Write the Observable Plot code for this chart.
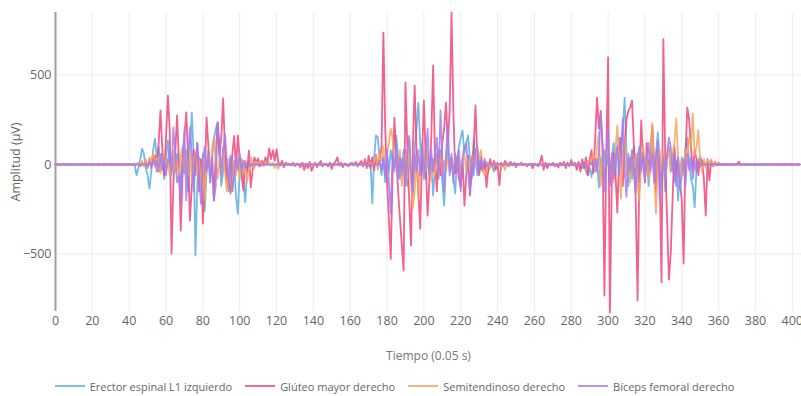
<!DOCTYPE html>
<html>
<head>
<meta charset="utf-8">
<script src="https://cdn.jsdelivr.net/npm/d3@7"></script>
<script src="https://cdn.jsdelivr.net/npm/@observablehq/plot@0.6"></script>
<style>
  html, body { margin: 0; padding: 0; background: #fff; }
  #chart { width: 801px; }
  #legend { display: flex; justify-content: center; align-items: center; gap: 13px; height: 20px;
    font: 11px 'Open Sans', sans-serif; color: #666; padding-right: 12px; }
  #legend .item { display: flex; align-items: center; gap: 5px; white-space: nowrap; }
</style>
</head>
<body>
<div id="chart"></div>
<div id="legend"></div>
<script>
// Series names and colours (legend order)
const names = ["Erector espinal L1 izquierdo", "Glúteo mayor derecho", "Semitendinoso derecho", "Bíceps femoral derecho"];
const colors = ["#5aaee5", "#f0457b", "#f8a35e", "#a47cf0"];
const xTicks = [0, 20, 40, 60, 80, 100, 120, 140, 160, 180, 200, 220, 240, 260, 280, 300, 320, 340, 360, 380, 400];
const yTicks = [-500, 0, 500];

// Amplitude (µV) per time step (0.05 s), index = time step
const erector = [
  0, 1, -1, 0, 2, -1, 0, 1, -2, 0,
  1, 0, -1, 2, 0, -1, 1, 0, -2, 1,
  0, 2, -1, 0, 1, -1, 0, 2, -1, 0,
  1, -2, 0, 1, 0, -1, 2, 0, -1, 1,
  0, 2, -3, 0, -61, -20, 30, 89, 60, -20,
  -60, -135, -40, 80, 145, 40, 100, -30, 60, -80,
  40, 134, 20, -60, 50, -40, 60, -20, -100, 30,
  -50, 80, -150, 100, 290, 50, -508, -100, 40, -80,
  60, -260, -50, 80, -100, 30, 145, 200, 229, 60,
  -120, -40, 50, -100, -150, 40, -60, 20, -180, -275,
  -40, 30, -80, -212, -30, 20, -10, 5, -5, 10,
  0, -2, 1, 0, 2, -1, 0, 1, -2, 0,
  1, 0, -1, 2, 0, -1, 1, 0, -2, 1,
  0, 2, -1, 0, 1, -1, 0, 2, -1, 0,
  1, -2, 0, 1, 0, -1, 2, 0, -1, 1,
  0, 1, -1, 0, 2, -1, 0, 1, -2, 0,
  1, 0, -1, 2, 0, -1, 1, 0, 0, 5,
  -10, 20, -218, 40, 162, 151, 20, -60, 30, -100,
  50, -40, 80, 20, 120, 162, 40, -80, 30, -50,
  80, -120, 20, -60, -184, 100, 200, 346, 120, -40,
  60, -80, 40, -60, 30, -173, -20, 60, -30, 80,
  -100, -229, 20, 100, -40, 60, -80, -162, 30, 100,
  150, 190, 60, 120, 162, 30, -80, 140, 40, -60,
  20, -30, 10, -20, 15, -40, 5, -10, -40, 5,
  0, 2, -1, 0, 1, -2, 0, 1, -1, 0,
  2, -1, 0, 1, -2, 0, 1, 0, -1, 2,
  0, -1, 1, 0, -2, 1, 0, 2, -1, 0,
  1, -1, 0, 2, -1, 0, 1, -2, 0, 1,
  0, 2, -1, 0, 1, 0, -20, 10, -40, -60,
  -20, -70, 10, -40, 30, -128, 40, -60, 80, -30,
  60, -100, 40, 120, -60, 80, 150, 60, 200, 374,
  50, -120, 40, -80, 100, -40, 60, -100, 30, 80,
  -60, 40, -120, 20, 100, -30, 60, 180, 40, -80,
  60, -150, 30, 100, -40, 60, -100, 20, -201, -50,
  40, -30, 80, 151, 20, -80, -120, -240, -20, 30,
  -10, 20, -5, 10, 0, 1, -1, 0, 2, -1,
  0, 1, -2, 0, 1, -1, 0, 2, -1, 0,
  1, 0, -1, 2, 0, -1, 1, 0, -2, 1,
  0, 2, -1, 0, 1, -1, 0, 2, -1, 0,
  1, -2, 0, 1, 0, -1, 2, 0, -1, 1,
  0, 1, -1, 0, 0
];

const gluteo = [
  0, 2, -2, 1, -1, 3, 0, -2, 2, 0,
  -1, 2, 0, -3, 1, 2, -1, 0, 3, -2,
  0, 1, -2, 2, 0, -1, 3, 0, -2, 1,
  2, -1, 0, 2, -3, 1, 0, 2, -1, 0,
  3, -2, 1, 0, 0, 5, -10, 10, -5, 15,
  -20, 30, -10, 20, 50, -40, 120, 302, 80, -60,
  150, 385, 200, -497, -100, 60, 274, 20, -369, -50,
  162, 291, 40, -313, -120, 80, -60, 120, -150, 30,
  -330, -80, 263, 100, -60, 40, -201, 60, 235, 50,
  150, 369, 80, -100, -40, -162, 60, 160, -20, 162,
  30, -60, -145, 20, -40, 78, -128, -30, 40, 10,
  34, -10, 20, 5, 40, 10, 90, 30, 80, 20,
  85, 10, -5, 20, -15, 10, 0, 5, -5, 10,
  -8, 5, 0, -15, 10, -30, 5, -20, 15, -35,
  -10, 10, -15, 5, 20, -10, 5, 0, -10, 10,
  -25, 5, 15, 40, -5, 10, -15, 5, 0, -10,
  5, 10, -5, 15, -10, 5, 20, -10, 30, -20,
  50, -20, 40, -30, 55, -10, 30, 100, 737, 200,
  -100, -300, -527, -50, 262, 50, -150, -300, -450, -592,
  458, 100, -200, -452, 100, 441, 80, -150, -358, 50,
  357, 20, -285, -80, 150, 553, 40, -150, 80, -60,
  120, 200, 346, 100, 300, 849, 300, -50, 40, -80,
  -128, 30, -229, -60, 50, -173, -40, 80, 330, 40,
  -60, 20, -40, 30, -128, -20, 30, -10, 20, -30,
  10, -117, 10, -10, 20, 5, -10, 15, -5, 10,
  -15, 5, 0, 10, -5, 5, -10, 0, 5, -20,
  5, 0, -10, 10, 50, -30, 10, -20, 5, -5,
  10, -10, 0, -15, 10, -5, 15, -20, 10, -10,
  25, -5, 10, -30, 15, -40, 30, -20, 40, -60,
  20, 80, -50, 150, 374, 200, 300, 100, -732, 50,
  598, -827, -100, 60, -50, -268, 50, 150, -120, 100,
  250, 300, 320, 357, 100, -200, -760, -50, 246, 20,
  -100, 120, -60, 80, 218, 20, -150, 80, -40, -659,
  700, 50, -300, -643, -500, -200, 100, -60, 40, -100,
  -200, -553, 50, 318, 250, 100, -40, 80, 30, -60,
  40, 20, -80, -285, 30, -89, 20, -10, 15, -5,
  10, 0, 5, -3, 2, 0, -2, 3, 0, -1,
  2, 15, -3, 0, 2, -1, 0, 3, -2, 0,
  1, -2, 2, 0, -1, 3, 0, -2, 1, 0,
  -1, 2, 0, -2, 1, 0, 2, -1, 0, 1,
  -2, 0, 1, -1, 0
];

const semitendinoso = [
  0, -1, 1, 0, -2, 1, 0, -1, 2, 0,
  -1, 0, 1, -2, 0, 1, -1, 0, 2, -1,
  0, -2, 1, 0, -1, 1, 0, -2, 1, 0,
  -1, 2, 0, -1, 0, 1, -2, 0, 1, -1,
  0, 1, -1, 0, 0, 10, -5, 20, -10, 30,
  -20, 40, 10, 67, 20, -30, 40, -50, 20, 60,
  -20, 30, -60, 40, 80, -40, 20, -80, 40, 100,
  -30, 50, -60, 80, -100, 30, 60, -40, 20, -120,
  40, -200, 20, 60, -40, 90, 151, 20, -80, 40,
  -60, 100, -40, -150, 30, -100, -150, 20, -60, 40,
  -80, 30, -50, 20, -100, -30, 40, 10, -20, 15,
  -10, 20, 5, -10, 10, 0, 15, -5, 10, -20,
  5, -25, 10, -5, 5, 0, 1, -1, 0, 2,
  0, -1, 1, 0, -2, 1, 0, -1, 2, 0,
  -1, 0, 1, -2, 0, 1, -1, 0, 2, -1,
  0, -2, 1, 0, -1, 1, 0, -2, 1, 0,
  -1, 2, 0, -1, 0, 1, -2, 0, 1, -1,
  0, 10, -10, 20, 50, -30, 60, 20, 100, -40,
  60, 120, 200, 150, -20, 60, -60, 80, -120, -40,
  60, -80, 150, -100, -245, -150, 40, -190, 20, 60,
  100, -40, 80, -20, -90, 30, -60, 40, -30, 60,
  -50, 20, -40, 50, -20, 30, -40, 60, -20, 40,
  -30, 20, 60, -40, 30, -20, 50, -30, 40, 95,
  30, 80, -20, -61, -40, 10, -20, 5, -10, 10,
  -5, 0, -10, 5, -30, 0, 10, -5, 0, 1,
  -1, 0, 2, -1, 0, 1, -2, 0, 1, -1,
  0, 2, -1, 0, 1, -1, 0, 2, -1, 0,
  1, -2, 0, 1, 0, -1, 2, 0, -1, 1,
  0, -1, 2, 0, -1, 1, 0, -2, 0, 20,
  -10, 30, 60, -30, 100, 180, -120, 60, -80, 40,
  120, -60, 40, -100, 80, 218, 40, -190, 60, 150,
  -60, 30, -100, 80, -40, 60, -120, -200, 40, 100,
  -50, 60, -80, 40, 229, -60, -274, 30, 80, -40,
  60, -80, 30, 100, -40, 60, 120, 257, 40, -100,
  30, -60, 80, 40, 150, 100, 285, 50, 100, 190,
  20, -40, 30, -20, 20, 10, 30, -10, 15, 0,
  10, 0, -1, 1, 0, -2, 1, 0, -1, 2,
  0, -1, 0, 1, -2, 0, 1, -1, 0, 2,
  -1, 0, 1, -1, 0, 2, -1, 0, 1, -2,
  0, 1, -1, 0, 2, -1, 0, 1, -1, 0,
  1, -1, 0, 2, 0
];

const biceps = [
  0, 1, 0, -1, 1, 0, -1, 0, 1, -1,
  0, 1, -1, 0, 1, 0, -1, 1, 0, -1,
  1, 0, -1, 0, 1, -1, 0, 1, 0, -1,
  0, 1, -1, 0, 1, 0, -1, 1, -1, 0,
  1, -1, 0, 1, 0, -1, 1, 0, 0, 5,
  -10, 15, -20, 30, -10, 20, -40, 60, -30, 40,
  -60, 20, 80, -40, 207, 60, -100, -60, -200, 40,
  190, -200, 50, 207, 60, -150, 30, 120, -80, -220,
  20, 100, -40, 60, -100, 40, -200, -120, 235, 120,
  -60, 80, 170, 30, -100, 50, -150, -60, 40, -30,
  60, -40, 20, -20, 10, -10, 5, 0, 1, -1,
  0, 1, -1, 0, 1, 0, -1, 1, 0, -1,
  1, 0, -1, 0, 1, -1, 0, 1, 0, -1,
  0, 1, -1, 0, 1, 0, -1, 1, -1, 0,
  1, -1, 0, 1, 0, -1, 1, 0, -1, 0,
  0, 1, 0, -1, 1, 0, -1, 0, 1, -1,
  0, 1, -1, 0, 1, 0, -1, 1, 0, -1,
  1, 0, -1, 0, 1, 0, 20, -30, 40, -60,
  80, -100, -274, 60, -40, 100, -80, 40, -60, 80,
  -120, 60, 160, -40, -150, 60, -40, 80, -60, 120,
  -80, 40, 200, -60, 80, -40, 60, 150, -80, 302,
  40, -150, 60, 229, -60, 40, -100, 60, -40, 80,
  -150, 40, 100, 117, -30, -150, 40, -60, 80, 100,
  -30, 40, -20, 10, -10, 5, 0, 1, -1, 0,
  1, 0, -1, 0, 1, -1, 0, 1, 0, -1,
  0, 1, -1, 0, 1, 0, -1, 1, -1, 0,
  1, -1, 0, 1, 0, -1, 1, 0, -1, 0,
  0, 1, 0, -1, 1, 0, -1, 0, 1, -1,
  0, 1, -1, 0, 1, 0, -1, 1, 0, -1,
  0, 10, -20, 30, -40, 60, 285, 100, -150, 40,
  200, -120, 60, -80, 40, 100, -60, 80, 257, -40,
  -180, 60, -40, 80, -60, -160, 40, 100, -40, 60,
  -80, 30, 120, -40, 60, -100, 40, 130, -201, -60,
  40, -80, 60, 150, 100, -40, 60, -120, 40, -140,
  -60, 30, -120, 60, -30, 40, -80, 20, -40, 10,
  -10, 5, 0, 1, -1, 0, 1, 0, -1, 1,
  0, -1, 1, 0, -1, 0, 1, -1, 0, 1,
  -1, 0, 1, 0, -1, 1, 0, -1, 0, 1,
  0, -1, 1, 0, -1, 0, 1, 0, -1, 1,
  0, -1, 0, 1, -1, 0, 1, 0, -1, 0,
  1, 0, -1, 0, 0
];

const seriesValues = [erector, gluteo, semitendinoso, biceps];
const rows = seriesValues.flatMap((vals, i) => vals.map((v, t) => ({t, v, s: names[i]})));

const chart = Plot.plot({
  width: 801,
  height: 376,
  marginLeft: 55,
  marginRight: 0,
  marginTop: 12,
  marginBottom: 65,
  style: {fontFamily: "'Open Sans', sans-serif", fontSize: "12.5px", color: "#666", background: "#fff", overflow: "hidden"},
  x: {domain: [0, 405]},
  y: {domain: [-821, 849]},
  color: {domain: names, range: colors},
  marks: [
    Plot.gridX(xTicks, {stroke: "#ececec", strokeOpacity: 1}),
    Plot.gridY(yTicks, {stroke: "#ececec", strokeOpacity: 1}),
    Plot.ruleX([0], {stroke: "#a0a0a0", strokeWidth: 2}),
    Plot.lineY(rows, {x: "t", y: "v", z: "s", stroke: "s", strokeWidth: 1.8, strokeOpacity: 0.85, strokeLinejoin: "round"}),
    Plot.axisX(xTicks, {tickSize: 0, tickPadding: 5, fill: "#666", label: null}),
    Plot.axisX({ticks: [], label: "Tiempo (0.05 s)", labelAnchor: "center", labelArrow: "none", labelOffset: 48, fill: "#777", fontSize: 12}),
    Plot.axisY(yTicks, {tickSize: 0, tickPadding: 4, label: "Amplitud (µV)", labelAnchor: "center", labelArrow: "none", labelOffset: 44, fill: "#666"})
  ]
});
document.getElementById("chart").appendChild(chart);

const legend = document.getElementById("legend");
names.forEach((n, i) => {
  const item = document.createElement("span");
  item.className = "item";
  item.innerHTML = `<svg width="30" height="4"><line x1="0" y1="2" x2="30" y2="2" stroke="${colors[i]}" stroke-width="2" stroke-opacity="0.8"/></svg><span>${n}</span>`;
  legend.appendChild(item);
});
</script>
</body>
</html>
